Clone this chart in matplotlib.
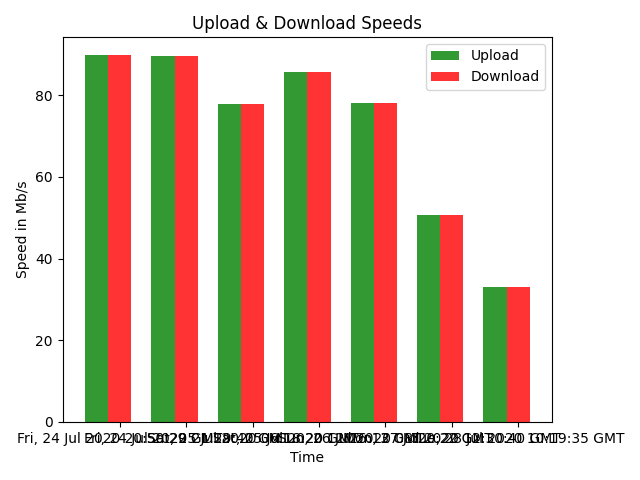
import numpy as np
import matplotlib
matplotlib.use("Agg")
import matplotlib.pyplot as plt

times = [
    "Fri, 24 Jul 2020 20:50:29 GMT",
    "Fri, 24 Jul 2020 21:29:40 GMT",
    "Sat, 25 Jul 2020 06:18:20 GMT",
    "Sat, 25 Jul 2020 12:26:13 GMT",
    "Sun, 26 Jul 2020 08:20:22 GMT",
    "Mon, 27 Jul 2020 12:30:40 GMT",
    "Tue, 28 Jul 2020 10:19:35 GMT",
]
upload = [89.8, 89.6, 77.8, 85.7, 78.0, 50.7, 33.0]
download = [89.8, 89.6, 77.8, 85.7, 78.0, 50.7, 33.0]

fig, ax = plt.subplots(figsize=(6.4, 4.8), dpi=100)
index = np.arange(len(times))
bar_width = 0.35
opacity = 0.8

ax.bar(index, upload, bar_width, alpha=opacity, color='g', label='Upload')
ax.bar(index + bar_width, download, bar_width, alpha=opacity, color='r', label='Download')

ax.set_xlabel('Time')
ax.set_ylabel('Speed in Mb/s')
ax.set_title('Upload & Download Speeds')
ax.set_xticks(index + bar_width)
ax.set_xticklabels(times)
ax.legend()

# labels overlap in the original too
fig.subplots_adjust(left=0.098, right=0.8625, bottom=0.121, top=0.923)
plt.savefig('out.png')
